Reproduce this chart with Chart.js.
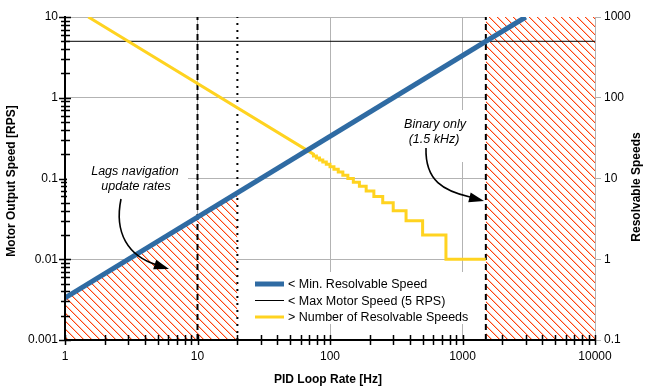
<!DOCTYPE html>
<html><head><meta charset="utf-8">
<script src="https://cdn.jsdelivr.net/npm/chart.js@4.4.1/dist/chart.umd.min.js"></script>
<style>html,body{margin:0;padding:0;background:#fff;}</style>
</head><body>
<canvas id="c" width="649" height="390" style="display:block;width:649px;height:390px"></canvas>
<script>
// ---- tick labels ----
const xTicks = [1, 10, 100, 1000, 10000];
const xTickLabels = ['1', '10', '100', '1000', '10000'];
const yTicks = [0.001, 0.01, 0.1, 1, 10];
const yTickLabels = ['0.001', '0.01', '0.1', '1', '10'];
const y2Ticks = [0.1, 1, 10, 100, 1000];
const y2TickLabels = ['0.1', '1', '10', '100', '1000'];

// ---- series ----
const minSpeedHz = [1, 3000];
const minSpeedRps = [0.00333, 10];
const maxSpeedHz = [1, 10000];
const maxSpeedRps = [5, 5];
const countLineHz = [1.5, 75];
const countLineVal = [1000, 20];
const stepStartHz = [75, 78.95, 83.33, 88.24, 93.75, 100, 107.1, 115.4, 125, 136.4, 150, 166.7, 187.5, 214.3, 250, 300, 375, 500, 750];
const stepLevel = [19, 18, 17, 16, 15, 14, 13, 12, 11, 10, 9, 8, 7, 6, 5, 4, 3, 2, 1];
const stepEndHz = 1500;
const lagHatchHz = [1, 20];
const lagHatchRps = [0.00333, 0.0667];
const binHatchHz = [1500, 10000];
const binHatchRps = [10, 10];
const dashedHz = [10, 1500];
const dottedHz = [20];
const axisRpsRange = [0.001, 10];

const zip = (xs, ys) => xs.map((x, i) => ({x: x, y: ys[i]}));
const yellowPts = zip(countLineHz, countLineVal);
stepStartHz.forEach((s, i) => {
  const e = i + 1 < stepStartHz.length ? stepStartHz[i + 1] : stepEndHz;
  yellowPts.push({x: s, y: stepLevel[i]});
  yellowPts.push({x: e, y: stepLevel[i]});
});

const FONT = '"Liberation Sans", Arial, sans-serif';
Chart.defaults.font.family = FONT;
Chart.defaults.font.size = 12;
Chart.defaults.color = '#000';

const cv = document.getElementById('c');
const ctx = cv.getContext('2d');

function makeHatch() {
  const c = document.createElement('canvas');
  c.width = 8; c.height = 8;
  const g = c.getContext('2d');
  g.fillStyle = '#fff'; g.fillRect(0, 0, 8, 8);
  for (let i = 0; i < 8; i++) {
    g.fillStyle = '#ff420e'; g.fillRect(i, i, 1, 1);
    g.fillStyle = '#ffc2ad'; g.fillRect((i + 1) % 8, i, 1, 1);
  }
  return ctx.createPattern(c, 'repeat');
}
const hatch = makeHatch();

const vline = (x, dash, order) => ({
  data: [{x: x, y: axisRpsRange[0]}, {x: x, y: axisRpsRange[1]}],
  borderColor: '#000', borderWidth: 2, borderDash: dash, yAxisID: 'y', order: order, fill: false
});

const datasets = [
  {label: '< Min. Resolvable Speed', data: zip(minSpeedHz, minSpeedRps), borderColor: '#2f6ba3', borderWidth: 5, yAxisID: 'y', order: 1, fill: false},
  {label: '> Number of Resolvable Speeds', data: yellowPts, borderColor: '#ffd320', borderWidth: 3, yAxisID: 'y2', order: 2, fill: false, borderJoinStyle: 'miter'},
  {label: '< Max Motor Speed (5 RPS)', data: zip(maxSpeedHz, maxSpeedRps), borderColor: '#000', borderWidth: 1, yAxisID: 'y', order: 3, fill: false},
  ...dashedHz.map(x => vline(x, [6, 4], 4)),
  ...dottedHz.map(x => vline(x, [2, 5], 4)),
  {label: 'lag', data: zip(lagHatchHz, lagHatchRps), borderWidth: 0, borderColor: 'rgba(0,0,0,0)', backgroundColor: hatch, fill: 'start', yAxisID: 'y', order: 10},
  {label: 'bin', data: zip(binHatchHz, binHatchRps), borderWidth: 0, borderColor: 'rgba(0,0,0,0)', backgroundColor: hatch, fill: 'start', yAxisID: 'y', order: 10}
];

function drawArrow(g, pts, tip) {
  g.save();
  g.strokeStyle = '#000'; g.fillStyle = '#000'; g.lineWidth = 1.6;
  g.beginPath();
  g.moveTo(pts[0], pts[1]);
  g.bezierCurveTo(pts[2], pts[3], pts[4], pts[5], pts[6], pts[7]);
  g.stroke();
  const ang = Math.atan2(tip[1] - pts[5], tip[0] - pts[4]);
  const L = 15, W = 5;
  const bx = tip[0] - L * Math.cos(ang), by = tip[1] - L * Math.sin(ang);
  g.beginPath();
  g.moveTo(tip[0], tip[1]);
  g.lineTo(bx + W * Math.sin(ang), by - W * Math.cos(ang));
  g.lineTo(bx - W * Math.sin(ang), by + W * Math.cos(ang));
  g.closePath(); g.fill();
  g.restore();
}

const overlay = {
  id: 'overlay',
  afterDraw(chart) {
    const g = chart.ctx;
    const sx = chart.scales.x, sy = chart.scales.y;
    const a = chart.chartArea;
    g.save();
    // cross ticks on left and bottom axes
    g.strokeStyle = '#000'; g.lineWidth = 1.5;
    g.beginPath();
    for (let e = -3; e <= 0; e++) {
      for (let m = 1; m <= 10; m++) {
        const v = m * Math.pow(10, e);
        const py = Math.round(sy.getPixelForValue(v)) + 0.5;
        const big = (m === 1 || m === 10);
        g.moveTo(a.left - (big ? 6 : 4), py); g.lineTo(a.left + (big ? 6 : 5), py);
      }
    }
    for (let e = 0; e <= 3; e++) {
      for (let m = 1; m <= 10; m++) {
        const v = m * Math.pow(10, e);
        const px = Math.round(sx.getPixelForValue(v)) + 0.5;
        g.moveTo(px, a.bottom - 5); g.lineTo(px, a.bottom + 5);
      }
    }
    g.stroke();

    // annotation boxes + text
    g.fillStyle = '#fff';
    g.fillRect(67, 158, 121, 40);
    g.fillRect(398, 110, 72, 52);
    g.fillStyle = '#000';
    g.font = 'italic 12.5px ' + FONT;
    g.textAlign = 'center'; g.textBaseline = 'middle';
    g.fillText('Lags navigation', 135, 172);
    g.fillText('update rates', 136, 187);
    g.fillText('Binary only', 435, 125);
    g.fillText('(1.5 kHz)', 434, 140);
    drawArrow(g, [121, 199, 114, 233, 128, 256, 157, 265], [169, 269]);
    drawArrow(g, [426, 148, 425, 181, 444, 191, 470, 197], [484, 201]);

    // legend
    g.fillStyle = '#fff';
    g.fillRect(249, 272, 225, 52);
    const rows = [
      ['< Min. Resolvable Speed', '#2f6ba3', 5],
      ['< Max Motor Speed (5 RPS)', '#000', 1],
      ['> Number of Resolvable Speeds', '#ffd320', 3]
    ];
    g.font = '12.5px ' + FONT;
    g.textAlign = 'left'; g.textBaseline = 'middle';
    rows.forEach((r, i) => {
      const y = 284 + i * 16.5;
      g.strokeStyle = r[1]; g.lineWidth = r[2];
      g.beginPath(); g.moveTo(255, y); g.lineTo(284, y); g.stroke();
      g.fillStyle = '#000';
      g.fillText(r[0], 288, y + 1);
    });

    // axis titles
    g.font = 'bold 12px ' + FONT;
    g.textAlign = 'center'; g.textBaseline = 'middle';
    g.fillText('PID Loop Rate [Hz]', 328, 380);
    g.save(); g.translate(12, 181); g.rotate(-Math.PI / 2);
    g.fillText('Motor Output Speed [RPS]', 0, 0); g.restore();
    g.save(); g.translate(637, 187); g.rotate(-Math.PI / 2);
    g.fillText('Resolvable Speeds', 0, 0); g.restore();
    g.restore();
  }
};

const setTicks = vals => s => { s.ticks = vals.map(v => ({value: v})); };

new Chart(ctx, {
  type: 'line',
  data: {datasets: datasets},
  options: {
    responsive: false, animation: false, devicePixelRatio: 1,
    layout: {padding: {top: 17, left: 0, right: 0, bottom: 0}},
    elements: {point: {radius: 0, hoverRadius: 0}, line: {tension: 0}},
    plugins: {legend: {display: false}, tooltip: {enabled: false}},
    events: [],
    scales: {
      x: {
        type: 'logarithmic', position: 'bottom', min: 1, max: 10000,
        afterBuildTicks: setTicks(xTicks),
        afterFit: s => { s.height = 50; },
        ticks: {callback: (v, i) => xTickLabels[i], padding: 9, maxRotation: 0, autoSkip: false},
        grid: {color: '#b3b3b3', lineWidth: 1, drawTicks: false},
        border: {color: '#000', width: 2, z: 1}
      },
      y: {
        type: 'logarithmic', position: 'left', min: 0.001, max: 10,
        afterBuildTicks: setTicks(yTicks),
        afterFit: s => { s.width = 65; },
        ticks: {callback: (v, i) => yTickLabels[i], padding: 7, autoSkip: false},
        grid: {color: '#b3b3b3', lineWidth: 1, drawTicks: false},
        border: {color: '#000', width: 2, z: 1}
      },
      y2: {
        type: 'logarithmic', position: 'right', min: 0.1, max: 1000,
        afterBuildTicks: setTicks(y2Ticks),
        afterFit: s => { s.width = 54; },
        ticks: {callback: (v, i) => y2TickLabels[i], padding: 3, autoSkip: false},
        grid: {display: true, drawOnChartArea: false, drawTicks: true, tickLength: 6, color: '#b3b3b3'},
        border: {color: '#b3b3b3', width: 1}
      }
    }
  },
  plugins: [overlay]
});
</script>
</body></html>
